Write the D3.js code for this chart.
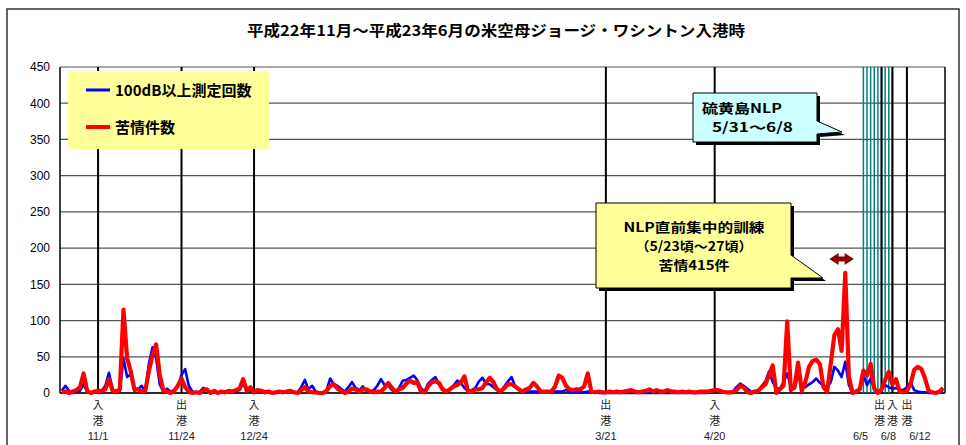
<!DOCTYPE html>
<html><head><meta charset="utf-8">
<script src="https://cdn.jsdelivr.net/npm/d3@7"></script>
<style>
html,body{margin:0;padding:0;background:#fff;}
svg{display:block;}
</style></head>
<body><svg id="c" width="966" height="445"></svg>
<script>
// ---- data ----
const startDate = "2010-10-22";
const endDate = "2011-06-23"; // exclusive
const complaints = [1,2,0,2,4,8,27,3,0,2, 3,3,5,19,3,2,5,115,48,30, 5,5,2,3,30,52,67,25,3,2, 0,3,10,20,8,2,0,1,0,4,
 5,0,3,0,2,1,3,2,4,6, 19,3,8,1,4,3,1,2,0,1, 2,1,2,3,1,0,4,8,2,1, 1,0,0,3,10,12,6,3,0,2,
 6,5,2,5,5,2,1,2,2,7, 14,7,2,5,7,13,17,14,15,2, 1,9,15,16,14,5,2,5,9,11, 14,23,2,2,5,5,7,15,21,15,
 5,2,7,12,12,9,5,2,5,7, 14,9,2,2,2,2,9,24,21,10, 5,4,5,5,9,27,2,1,2,1, 1,2,1,2,1,2,3,4,2,1,
 2,3,5,2,4,2,2,4,2,2, 1,2,1,2,1,1,2,2,2,3, 4,4,2,1,1,1,4,10,8,1, 0,2,3,8,12,25,38,0,5,10,
 99,4,8,42,3,15,36,44,46,40, 8,2,40,80,88,58,166,23,0,2, 5,31,24,40,6,0,5,18,29,12, 19,2,1,3,12,32,36,33,20,3, 1,0,2,7];
const over100dB = [3,10,3,0,2,3,12,2,0,1, 2,3,10,28,5,1,3,48,22,26, 3,5,10,2,40,63,48,12,2,6, 2,4,8,25,33,10,2,0,2,7,
 4,0,1,0,1,0,1,1,2,4, 14,3,4,1,2,1,0,1,0,0, 1,0,1,1,0,1,8,18,5,10, 2,0,1,4,20,12,10,6,2,8,
 15,7,4,9,3,2,4,10,19,11, 10,4,1,7,17,18,21,24,18,7, 2,13,18,22,12,5,2,5,10,17, 14,7,2,4,7,16,21,12,12,8,
 4,2,9,16,22,9,5,2,2,2, 2,2,1,1,2,2,2,2,2,4, 2,1,1,1,1,2,1,1,0,0, 0,0,0,0,0,0,0,0,0,0,
 0,0,0,0,0,0,0,0,0,0, 0,0,0,0,0,0,0,0,0,1, 5,4,2,1,1,2,8,13,10,6, 2,1,2,10,16,30,15,6,6,15,
 27,8,6,25,10,8,12,15,20,14, 10,8,15,36,31,22,43,11,0,1, 5,25,11,20,6,1,5,11,8,6, 7,4,4,8,15,4,2,1,1,0, 0,1,1,2];
const yTicks = [0,50,100,150,200,250,300,350,400,450];
const seriesNames = ["100dB以上測定回数","苦情件数"];
const seriesColors = ["#0000ff","#ff0000"];
// port events: date used for position, action, shown date
const eventDates = ["2010-11-01","2010-11-24","2010-12-14","2011-03-21","2011-04-20","2011-06-05","2011-06-08","2011-06-12"];
const eventActions = ["入港","出港","入港","出港","入港","出港","入港","出港"];
const eventLabels = ["11/1","11/24","12/24","3/21","4/20","6/5","6/8","6/12"];
const nlpDates = ["2011-05-31","2011-06-01","2011-06-02","2011-06-03","2011-06-04","2011-06-05","2011-06-06","2011-06-07","2011-06-08"];
const focusRange = ["2011-05-23","2011-05-27"];
const titleText = "平成22年11月～平成23年6月の米空母ジョージ・ワシントン入港時";
const calloutNLP = ["硫黄島NLP","5/31～6/8"];
const calloutPre = ["NLP直前集中的訓練","（5/23頃～27頃）","苦情415件"];

// ---- setup ----
const parse = d3.timeParse("%Y-%m-%d");
const fmt = d3.timeFormat("%Y-%m-%d");
const days = d3.timeDay.range(parse(startDate), parse(endDate)).map(fmt);
const svg = d3.select("#c");
const M = {l:60, r:945, t:67, b:393};
const x = d3.scalePoint().domain(days).range([M.l, M.r]).padding(0.5);
const y = d3.scaleLinear().domain([0,450]).range([M.b, M.t]);
const jp = "'Noto Sans CJK JP','Noto Sans',sans-serif";
const lat = "'Liberation Sans',Arial,sans-serif";

// outer frame
svg.append("rect").attr("x",7).attr("y",9).attr("width",952).attr("height",460)
  .attr("fill","none").attr("stroke","#333").attr("stroke-width",1.5);

// title
svg.append("text").attr("x",496).attr("y",36).attr("text-anchor","middle")
  .attr("font-family",jp).attr("font-weight","bold").attr("font-size",15)
  .attr("textLength",498).attr("lengthAdjust","spacingAndGlyphs")
  .text(titleText);

// gridlines
svg.append("g").selectAll("line").data(yTicks).join("line")
  .attr("x1",M.l).attr("x2",M.r).attr("y1",d=>y(d)).attr("y2",d=>y(d))
  .attr("stroke","#555").attr("stroke-width",1.2);

// y axis
const yAxis = svg.append("g").attr("transform",`translate(${M.l},0)`)
  .call(d3.axisLeft(y).tickValues(yTicks).tickSize(0).tickPadding(10));
yAxis.select(".domain").remove();
yAxis.selectAll("text").attr("font-family",lat).attr("font-size",12).attr("fill","#000");

// plot frame
svg.append("line").attr("x1",M.l).attr("x2",M.l).attr("y1",M.t).attr("y2",M.b).attr("stroke","#000").attr("stroke-width",1.5);
svg.append("line").attr("x1",M.r).attr("x2",M.r).attr("y1",M.t).attr("y2",M.b).attr("stroke","#000").attr("stroke-width",1.5);
svg.append("line").attr("x1",M.l).attr("x2",M.r).attr("y1",M.b).attr("y2",M.b).attr("stroke","#000").attr("stroke-width",1.5);

// NLP period lines (teal)
svg.append("g").selectAll("line").data(nlpDates).join("line")
  .attr("x1",d=>x(d)).attr("x2",d=>x(d)).attr("y1",M.t).attr("y2",M.b)
  .attr("stroke","#008080").attr("stroke-width",1.5);

// event lines
svg.append("g").selectAll("line").data(eventDates).join("line")
  .attr("x1",d=>x(d)).attr("x2",d=>x(d)).attr("y1",M.t).attr("y2",M.b)
  .attr("stroke","#000").attr("stroke-width",2);

// event labels
const charShift = [0,0,0,0,0,-2,0,0];
const dateShift = [0,0,0,0,0,-21,-4,13];
const ev = svg.append("g").attr("font-family",jp).attr("font-size",11).attr("fill","#222");
eventDates.forEach((d,i)=>{
  const cx = x(d);
  eventActions[i].split("").forEach((ch,k)=>{
    ev.append("text").attr("x",cx+charShift[i]).attr("y",409+k*16).attr("text-anchor","middle").text(ch);
  });
  ev.append("text").attr("x",cx+dateShift[i]).attr("y",440).attr("text-anchor","middle")
    .attr("font-family",lat).attr("font-size",11).text(eventLabels[i]);
});

// series lines
const line = d3.line().x((d,i)=>x(days[i])).y(d=>y(d));
svg.append("path").datum(over100dB).attr("d",line).attr("fill","none")
  .attr("stroke",seriesColors[0]).attr("stroke-width",2.6).attr("stroke-linejoin","round");
svg.append("path").datum(complaints).attr("d",line).attr("fill","none")
  .attr("stroke",seriesColors[1]).attr("stroke-width",4.2).attr("stroke-linejoin","round");

// legend
const lg = svg.append("g");
lg.append("rect").attr("x",68).attr("y",71).attr("width",201).attr("height",78).attr("fill","#ffff99");
[0,1].forEach(k=>{
  const yy = 90 + k*37;
  lg.append("line").attr("x1",86).attr("x2",110).attr("y1",yy).attr("y2",yy)
    .attr("stroke",seriesColors[k]).attr("stroke-width",k?4:3);
  lg.append("text").attr("x",115).attr("y",yy+5.5).attr("font-family",jp).attr("font-weight","bold")
    .attr("font-size",15).text(seriesNames[k]);
});

// callout helper
function callout(pts, fill){
  const p = d3.line()(pts) + "Z";
  svg.append("path").attr("d",p).attr("transform","translate(3,3)").attr("fill","#000");
  svg.append("path").attr("d",p).attr("fill",fill).attr("stroke","#000").attr("stroke-width",1);
}
// Iwo Jima NLP callout
callout([[693,93],[817,93],[817,121],[842,132],[817,134],[817,142],[693,142]],"#ccffff");
const nlpX = [702,712], nlpW = [80,81];
calloutNLP.forEach((s,k)=>{
  svg.append("text").attr("x",nlpX[k]).attr("y",113+k*19).attr("font-family",jp).attr("font-weight","bold")
    .attr("font-size",13).attr("textLength",nlpW[k]).attr("lengthAdjust","spacingAndGlyphs").text(s);
});

// pre-NLP training callout
callout([[596,203],[791,203],[791,255],[823,278],[791,278],[791,288],[596,288]],"#ffff99");
const preW = [141,117,71];
calloutPre.forEach((s,k)=>{
  svg.append("text").attr("x",694).attr("y",232+k*19).attr("text-anchor","middle")
    .attr("font-family",jp).attr("font-weight","bold").attr("font-size",13)
    .attr("textLength",preW[k]).attr("lengthAdjust","spacingAndGlyphs").text(s);
});

// double arrow over 5/23-5/27
const ax1 = x(focusRange[0]) - 5, ax2 = x(focusRange[1]) + 5, ay = 259;
const am = (ax1+ax2)/2;
svg.append("path").attr("fill","#8b0000")
  .attr("d", d3.line()([[ax1,ay],[am-3,ay-6],[am-3,ay-2.5],[am+3,ay-2.5],[am+3,ay-6],[ax2,ay],[am+3,ay+6],[am+3,ay+2.5],[am-3,ay+2.5],[am-3,ay+6]])+"Z");
</script></body></html>
